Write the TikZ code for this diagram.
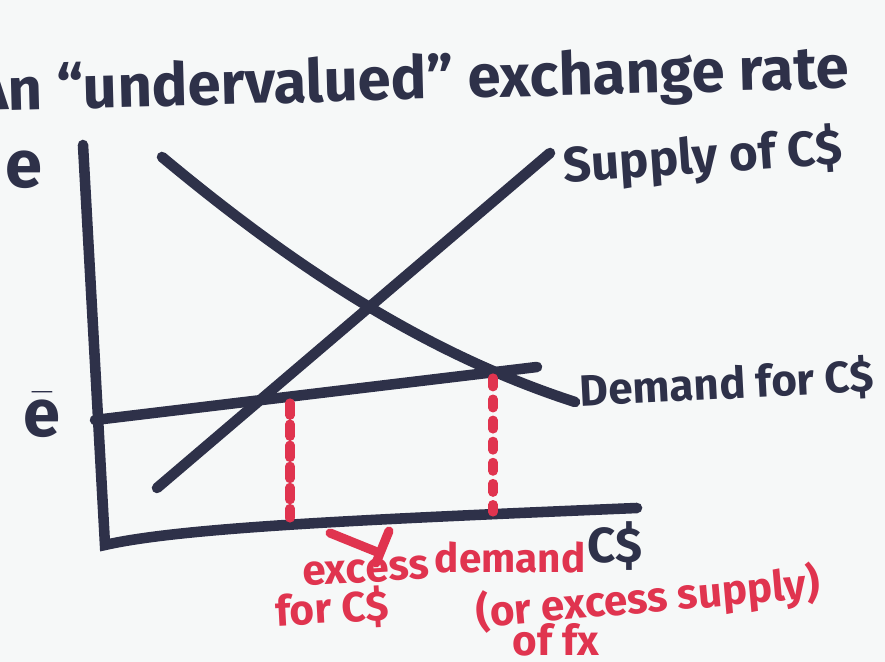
\documentclass[tikz,border=0pt]{standalone}
\usepackage{fontspec}
\setmainfont{Fira Sans}
\definecolor{ink}{HTML}{2E3149}
\definecolor{redink}{HTML}{E0344F}
\definecolor{paper}{HTML}{F6F8F8}
\tikzset{
  marker/.style={ink, line width=3pt, line cap=round},
  redmark/.style={redink, line width=2.6pt, line cap=round},
  hand/.style={ink, inner sep=0pt, font=\bfseries\fontsize{14}{14}\selectfont},
  redhand/.style={redink, inner sep=0pt, font=\bfseries\fontsize{12}{12}\selectfont},
}
\begin{document}
\begin{tikzpicture}[x=0.01cm,y=-0.01cm]
\fill[paper] (0,0) rectangle (885,662);
\useasboundingbox (0,0) rectangle (885,662);
% axes
\coordinate (top) at (83,145);
\coordinate (origin) at (105,545);
\coordinate (right) at (637,508);
\draw[marker] (top) -- (origin) .. controls (180,528) and (350,520) .. (right);
% curves
\draw[marker] (162,157) .. controls (300,272) and (430,355) .. (575,402);
\draw[marker] (157,488) -- (550,153);
\draw[marker] (95,420) -- (537,367);
% gap
\coordinate (lo) at (290,403);
\coordinate (hi) at (493,378);
\draw[redmark, dash pattern=on 3.5pt off 2.5pt] (lo) -- (290,518);
\draw[redmark, dash pattern=on 2.5pt off 3.5pt] (hi) -- (493,512);
\draw[redmark] (330,533) -- (377,552);
\draw[redmark] (389,531) -- (376,563);
% labels
\node[hand, anchor=base east, rotate=1.5, font=\bfseries\fontsize{17}{17}\selectfont] (title) at (850,88) {An ``undervalued'' exchange rate};
\node[hand, font=\bfseries\fontsize{19}{19}\selectfont] (elab) at (24,170) {e};
\node[hand, font=\bfseries\fontsize{19}{19}\selectfont] (ebar) at (42,415) {$\bar{\mathbf{e}}$};
\node[hand, rotate=4] (supply) at (703,158) {Supply of C\$};
\node[hand, rotate=3, font=\bfseries\fontsize{12.5}{12.5}\selectfont] (demand) at (727,384) {Demand for C\$};
\node[hand] (cdollar) at (615,546) {C\$};
\node[redhand, rotate=3] (excess) at (366,571) {excess};
\node[redhand, font=\bfseries\fontsize{11.5}{11.5}\selectfont] (dem) at (510,558) {demand};
\node[redhand, rotate=3] (forc) at (332,609) {for C\$};
\node[redhand, rotate=5] (orx) at (648,599) {(or excess supply)};
\node[redhand] (offx) at (556,640) {of fx};
\end{tikzpicture}
\end{document}
